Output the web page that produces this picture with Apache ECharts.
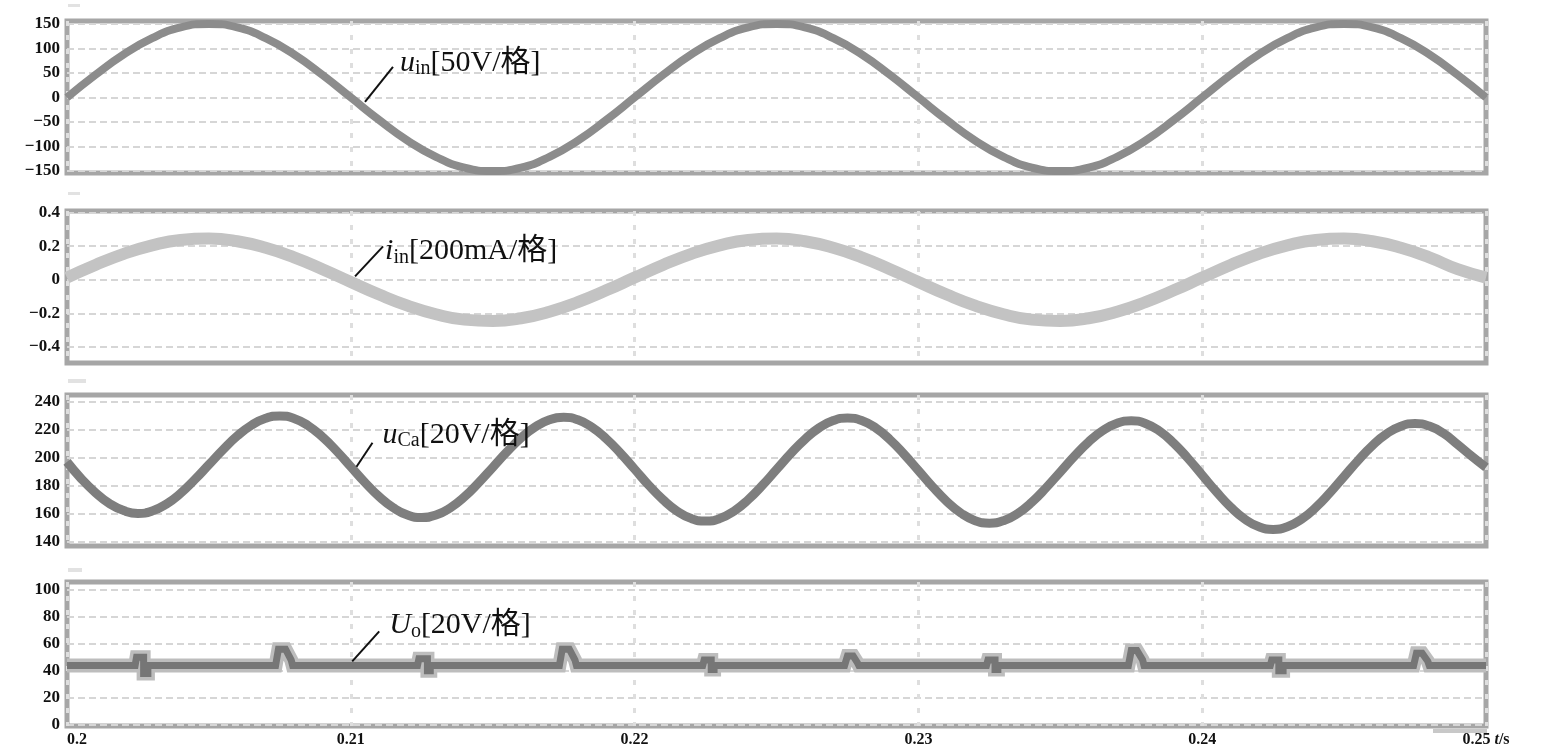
<!DOCTYPE html>
<html><head><meta charset="utf-8">
<script src="https://cdn.jsdelivr.net/npm/echarts@6/dist/echarts.min.js"></script>
<style>html,body{margin:0;padding:0;background:#fff}#c{width:1544px;height:748px}</style>
</head><body><div id="c"></div>
<script>
// time samples in ms
const tCoarse = [200,201,202,203,204,205,206,207,208,209,210,211,212,213,214,215,216,217,218,219,220,221,222,223,224,225,226,227,228,229,230,231,232,233,234,235,236,237,238,239,240,241,242,243,244,245,246,247,248,249,250];
const tFine = [200,200.5,201,201.5,202,202.5,203,203.5,204,204.5,205,205.5,206,206.5,207,207.5,208,208.5,209,209.5,210,210.5,211,211.5,212,212.5,213,213.5,214,214.5,215,215.5,216,216.5,217,217.5,218,218.5,219,219.5,220,220.5,221,221.5,222,222.5,223,223.5,224,224.5,225,225.5,226,226.5,227,227.5,228,228.5,229,229.5,230,230.5,231,231.5,232,232.5,233,233.5,234,234.5,235,235.5,236,236.5,237,237.5,238,238.5,239,239.5,240,240.5,241,241.5,242,242.5,243,243.5,244,244.5,245,245.5,246,246.5,247,247.5,248,248.5,249,249.5,250];

// u_in [V] at tCoarse
const uIn = [0,46,88,121,143,150,143,121,88,46,0,-46,-88,-121,-143,-150,-143,-121,-88,-46,0,46,88,121,143,150,143,121,88,46,0,-46,-88,-121,-143,-150,-143,-121,-88,-46,0,46,88,121,143,150,143,121,88,46,0];
// i_in [A] at tCoarse
const iIn = [0.013,0.088,0.154,0.205,0.237,0.245,0.229,0.19,0.133,0.063,-0.013,-0.088,-0.154,-0.205,-0.237,-0.245,-0.229,-0.19,-0.133,-0.063,0.013,0.088,0.154,0.205,0.237,0.245,0.229,0.19,0.133,0.063,-0.013,-0.088,-0.154,-0.205,-0.237,-0.245,-0.229,-0.19,-0.133,-0.063,0.013,0.088,0.154,0.205,0.237,0.245,0.229,0.19,0.133,0.063,0.013];
// u_Ca [V] at tFine
const uCa = [197,185,175,167,162,160,
 161.7,166.7,174.4,184.2,195,205.8,215.6,223.3,228.3,230,
 228.2,223.0,214.9,204.8,193.5,182.2,172.0,164.0,158.8,157,
 158.8,163.9,171.8,181.9,193,204.1,214.2,222.1,227.2,229,
 227.2,221.9,213.6,203.3,191.8,180.2,169.9,161.6,156.3,154.5,
 156.3,161.6,169.8,180.1,191.5,202.9,213.2,221.4,226.7,228.5,
 226.7,221.3,212.9,202.4,190.8,179.1,168.6,160.2,154.8,153,
 154.8,160.0,168.1,178.4,189.8,201.1,211.4,219.5,224.7,226.5,
 224.6,219.1,210.4,199.5,187.5,175.5,164.6,155.9,150.4,148.5,
 150.4,155.8,164.2,174.8,186.5,198.2,208.8,217.2,222.6,224.5,
 222.7,217.5,209.5,201,193];
// U_o [V]
const uoT = [200,
 202.4,202.45,202.7,202.7,202.85,202.85,
 207.35,207.45,207.7,207.9,207.95,
 212.35,212.4,212.7,212.7,212.8,212.8,
 217.35,217.45,217.7,217.9,217.95,
 222.4,222.45,222.7,222.7,222.8,222.8,
 227.4,227.5,227.7,227.85,227.9,
 232.4,232.45,232.7,232.7,232.8,232.8,
 237.4,237.5,237.7,237.9,237.95,
 242.4,242.45,242.7,242.7,242.85,242.85,
 247.45,247.55,247.75,247.95,248.0,
 250];
const uoV = [44,
 44,50,50,38,38,44,
 44,56,56,48,44,
 44,49,49,40,40,44,
 44,56,56,48,44,
 44,48,48,41,41,44,
 44,51,51,46,44,
 44,48,48,41,41,44,
 44,55,55,48,44,
 44,48,48,40,40,44,
 44,53,53,47,44,
 44];

const yTicks1 = [-150,-100,-50,0,50,100,150];
const yTicks2 = [-0.4,-0.2,0,0.2,0.4];
const yTicks3 = [140,160,180,200,220,240];
const yTicks4 = [0,20,40,60,80,100];
const xTickLabels = {200:'0.2',210:'0.21',220:'0.22',230:'0.23',240:'0.24',250:'0.25 {t|t}/s'};

const zip = (a,b) => a.map((x,i)=>[x,b[i]]);
const serif = "'Liberation Serif','DejaVu Serif',serif";
const minus = s => String(s).replace('-', '\u2212');

const grids = [
  {left:67, width:1419, top:21, height:152},
  {left:67, width:1419, top:211, height:152},
  {left:67, width:1419, top:395, height:151},
  {left:67, width:1419, top:582, height:146}
].map(g => Object.assign(g, {show:true, borderColor:'#a6a6a6', borderWidth:5, containLabel:false}));

function xAx(i){
  return {gridIndex:i, type:'value', min:200, max:250, interval:10,
    axisLine:{show:false}, axisTick:{show:false},
    axisLabel:{show:i===3, formatter:v=>xTickLabels[v]||'', fontFamily:serif, fontSize:16, fontWeight:'bold', color:'#111', margin:6,
      alignMinLabel:'left',
      rich:{t:{fontFamily:serif, fontSize:16, fontStyle:'italic', color:'#111'}}},
    splitLine:{show:true, lineStyle:{color:'#dedede', width:3, type:[5,9]}}};
}
function yAx(i,min,max,ticks,fmt){
  return {gridIndex:i, type:'value', min, max,
    axisLine:{show:false},
    axisTick:{show:false, customValues:ticks},
    axisLabel:{customValues:ticks, formatter:fmt, fontFamily:serif, fontSize:17, fontWeight:'bold', color:'#111', margin:7},
    splitLine:{show:true, lineStyle:{color:'#d6d6d6', width:2, type:[7,4]}}};
}

const chart = echarts.init(document.getElementById('c'), null, {renderer:'canvas'});
chart.setOption({
  animation:false,
  backgroundColor:'#fff',
  grid:grids,
  xAxis:[xAx(0),xAx(1),xAx(2),xAx(3)],
  yAxis:[
    yAx(0,-154,156,yTicks1,v=>minus(v)),
    yAx(1,-0.495,0.409,yTicks2,v=>minus(v===0?'0':v.toFixed(1))),
    yAx(2,136.6,245,yTicks3,v=>String(v)),
    yAx(3,-1,105.9,yTicks4,v=>String(v))
  ],
  series:[
    {type:'line', xAxisIndex:0, yAxisIndex:0, data:zip(tCoarse,uIn), smooth:0.5, symbol:'none',
      lineStyle:{color:'#8c8c8c', width:8}},
    {type:'line', xAxisIndex:1, yAxisIndex:1, data:zip(tCoarse,iIn), smooth:0.5, symbol:'none',
      lineStyle:{color:'#c3c3c3', width:12}},
    {type:'line', xAxisIndex:2, yAxisIndex:2, data:zip(tFine,uCa), smooth:0.5, symbol:'none',
      lineStyle:{color:'#7e7e7e', width:9}},
    {type:'line', xAxisIndex:3, yAxisIndex:3, data:zip(uoT,uoV), symbol:'none',
      lineStyle:{color:'#bdbdbd', width:14, join:'miter'}},
    {type:'line', xAxisIndex:3, yAxisIndex:3, data:zip(uoT,uoV), symbol:'none',
      lineStyle:{color:'#767676', width:7, join:'miter'}}
  ]
});

// annotations anchored to data points
const notes = [
  {grid:0, at:[210.5,-9],   line:[28,-35], txt:[35,-55], text:'{v|u}{s|in}{n|[50V/格]}'},
  {grid:1, at:[210.15,0.02],line:[28,-30], txt:[30,-41], text:'{v|i}{s|in}{n|[200mA/格]}'},
  {grid:2, at:[210.2,193.5],line:[16,-24], txt:[26,-48], text:'{v|u}{s|Ca}{n|[20V/格]}'},
  {grid:3, at:[210.05,47],  line:[27,-30], txt:[37,-52], text:'{v|U}{s|o}{n|[20V/格]}'}
];
const rich = {
  v:{fontFamily:serif, fontStyle:'italic', fontSize:30, lineHeight:32, fill:'#111'},
  s:{fontFamily:serif, fontSize:20, lineHeight:10, verticalAlign:'bottom', fill:'#111'},
  n:{fontFamily:"'Liberation Serif','Noto Sans CJK SC',serif", fontSize:30, lineHeight:32, fill:'#111'}
};
const graphic = [];
notes.forEach(n=>{
  const p = chart.convertToPixel({gridIndex:n.grid}, n.at);
  graphic.push({type:'line', shape:{x1:p[0], y1:p[1], x2:p[0]+n.line[0], y2:p[1]+n.line[1]},
    style:{stroke:'#111', lineWidth:2}, z:10});
  graphic.push({type:'text', x:p[0]+n.txt[0], y:p[1]+n.txt[1], z:10,
    style:{text:n.text, rich:rich, verticalAlign:'top', fill:'#111'}});
});
graphic.push({type:'rect', shape:{x:1433, y:729, width:54, height:4}, style:{fill:'#c8c8c8'}, z:1});
[[68,4,12,3],[68,192,12,3],[68,379,18,4],[68,568,14,4]].forEach(r=>{
  graphic.push({type:'rect', shape:{x:r[0], y:r[1], width:r[2], height:r[3]}, style:{fill:'#e2e2e2'}, z:1});
});
chart.setOption({graphic});
</script>
</body></html>
